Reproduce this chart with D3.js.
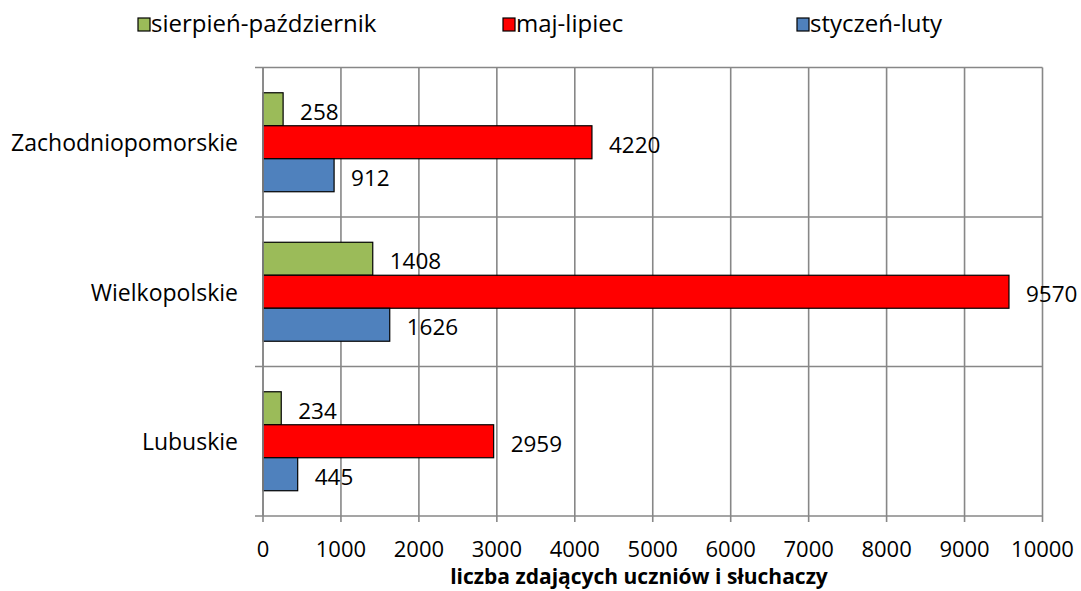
<!DOCTYPE html>
<html><head><meta charset="utf-8">
<script src="https://cdn.jsdelivr.net/npm/d3@7"></script>
<style>body{margin:0;background:#fff}svg{display:block}text{font-family:"Open Sans",sans-serif;fill:#000}</style>
</head><body>
<svg id="c" width="1081" height="591"></svg>
<script>
const categories = ["Zachodniopomorskie","Wielkopolskie","Lubuskie"];
const seriesNames = ["sierpień-październik","maj-lipiec","styczeń-luty"];
const seriesColors = ["#9BBB59","#FF0000","#4F81BD"];
const sierpienPazdziernik = [258,1408,234];
const majLipiec = [4220,9570,2959];
const styczenLuty = [912,1626,445];
const xTicks = [0,1000,2000,3000,4000,5000,6000,7000,8000,9000,10000];
const axisTitle = "liczba zdających uczniów i słuchaczy";

const values = [sierpienPazdziernik, majLipiec, styczenLuty];
const svg = d3.select("#c");
const L = 263, R = 1042.5, T = 67.5, B = 516;
const x = d3.scaleLinear().domain([0,10000]).range([L,R]);
const y = d3.scaleBand().domain(categories).range([T,B]).padding(0);
const step = y.bandwidth();
const inner = d3.scaleBand().domain(seriesNames).range([step*0.169, step*0.831]).padding(0);
const grid = "#878787";

// vertical gridlines
svg.append("g").selectAll("line").data(xTicks).join("line")
  .attr("x1",d=>x(d)).attr("x2",d=>x(d)).attr("y1",T).attr("y2",B+6)
  .attr("stroke",grid).attr("stroke-width",1.6);
// horizontal gridlines at category boundaries
const bounds = categories.map(c=>y(c)).concat([B]);
svg.append("g").selectAll("line").data(bounds).join("line")
  .attr("x1",L-8).attr("x2",R).attr("y1",d=>d).attr("y2",d=>d)
  .attr("stroke",grid).attr("stroke-width",1.6);

// bars
const gs = svg.append("g").selectAll("g").data(seriesNames).join("g");
gs.each(function(s,si){
  const g = d3.select(this);
  const data = categories.map((c,ci)=>({c,v:values[si][ci]}));
  g.selectAll("rect").data(data).join("rect")
    .attr("x",x(0)).attr("y",d=>y(d.c)+inner(s))
    .attr("width",d=>x(d.v)-x(0)).attr("height",inner.bandwidth())
    .attr("fill",seriesColors[si]).attr("stroke","#000").attr("stroke-width",1.2);
  g.selectAll("text").data(data).join("text")
    .attr("x",d=>x(d.v)+17).attr("y",d=>y(d.c)+inner(s)+inner.bandwidth()/2+2)
    .attr("dominant-baseline","central").attr("font-size",22.5).text(d=>d.v);
});

// axis line
svg.append("line").attr("x1",L).attr("x2",L).attr("y1",T).attr("y2",B).attr("stroke",grid).attr("stroke-width",1.6);

// x tick labels
svg.append("g").selectAll("text").data(xTicks).join("text")
  .attr("x",d=>x(d)).attr("y",557).attr("text-anchor","middle").attr("font-size",22).text(d=>d);
// category labels
svg.append("g").selectAll("text").data(categories).join("text")
  .attr("x",238).attr("y",d=>y(d)+step/2+9).attr("text-anchor","end").attr("font-size",23).text(d=>d);
// axis title
svg.append("text").attr("x",639).attr("y",584).attr("text-anchor","middle")
  .attr("font-size",21).attr("font-weight","bold").text(axisTitle);

// legend
const legX = [138,503,797];
const lg = svg.append("g").selectAll("g").data(seriesNames).join("g")
  .attr("transform",(d,i)=>`translate(${legX[i]},0)`);
lg.append("rect").attr("x",0).attr("y",18).attr("width",12).attr("height",13)
  .attr("fill",(d,i)=>seriesColors[i]).attr("stroke","#000").attr("stroke-width",1.2);
lg.append("text").attr("x",13).attr("y",32).attr("font-size",24).text(d=>d);
</script>
</body></html>
